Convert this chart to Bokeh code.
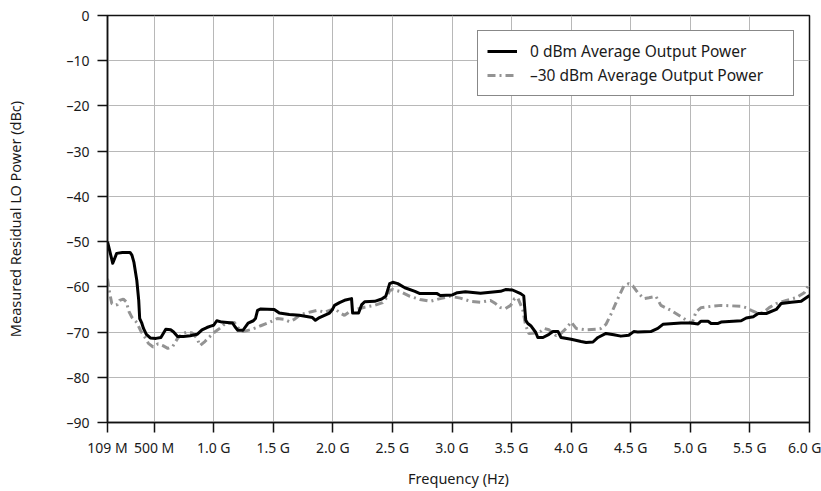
from bokeh.plotting import figure
from bokeh.models import Range1d, FixedTicker, CustomJSTickFormatter
from bokeh.embed import file_html
from bokeh.resources import INLINE

# Residual LO power vs. frequency (GHz, dBc)
freq_0dbm = [0.109, 0.153, 0.186, 0.234, 0.298, 0.314, 0.331, 0.355, 0.371, 0.379,
             0.395, 0.411, 0.435, 0.468, 0.516, 0.557, 0.582, 0.598, 0.639, 0.664,
             0.697, 0.746, 0.803, 0.861, 0.902, 0.943, 0.975, 1.000, 1.026, 1.070,
             1.158, 1.184, 1.202, 1.246, 1.289, 1.333, 1.351, 1.368, 1.395, 1.508,
             1.551, 1.635, 1.719, 1.829, 1.854, 1.888, 1.972, 1.997, 2.014, 2.056,
             2.107, 2.157, 2.166, 2.216, 2.241, 2.267, 2.351, 2.410, 2.444, 2.477,
             2.503, 2.545, 2.604, 2.689, 2.731, 2.875, 2.901, 3.003, 3.045, 3.112,
             3.239, 3.407, 3.449, 3.508, 3.576, 3.602, 3.619, 3.636, 3.661, 3.703,
             3.720, 3.763, 3.814, 3.847, 3.890, 3.915, 4.000, 4.083, 4.125, 4.183,
             4.225, 4.292, 4.358, 4.417, 4.483, 4.525, 4.559, 4.668, 4.727, 4.770,
             4.922, 5.006, 5.065, 5.090, 5.149, 5.174, 5.233, 5.258, 5.427, 5.469,
             5.528, 5.570, 5.637, 5.721, 5.762, 5.846, 5.930, 6.000]
lo_0dbm = [-50.0, -54.8, -52.6, -52.4, -52.4, -53.0, -54.6, -58.6, -63.0, -67.0,
           -67.9, -69.2, -70.5, -71.3, -71.4, -71.2, -70.1, -69.4, -69.5, -70.0,
           -71.0, -71.0, -70.8, -70.5, -69.5, -69.0, -68.7, -68.5, -67.5, -67.8,
           -68.0, -69.0, -69.6, -69.6, -68.0, -67.5, -67.0, -65.2, -64.9, -65.0,
           -65.8, -66.1, -66.3, -66.8, -67.4, -66.8, -65.8, -65.0, -64.1, -63.5,
           -62.9, -62.6, -65.8, -65.8, -64.0, -63.3, -63.2, -62.7, -62.1, -59.3,
           -59.0, -59.3, -60.2, -61.0, -61.5, -61.5, -61.9, -61.8, -61.3, -61.1,
           -61.4, -61.0, -60.6, -60.7, -61.5, -62.0, -67.4, -68.1, -68.6, -70.1,
           -71.2, -71.2, -70.5, -69.9, -69.9, -71.2, -71.6, -72.1, -72.3, -72.2,
           -71.2, -70.3, -70.6, -70.9, -70.7, -69.9, -70.0, -69.9, -69.2, -68.3,
           -68.0, -68.0, -68.2, -67.6, -67.6, -68.1, -68.1, -67.8, -67.5, -66.9,
           -66.6, -65.9, -65.9, -65.0, -63.7, -63.4, -63.2, -61.9]

freq_m30dbm = [0.109, 0.121, 0.145, 0.169, 0.194, 0.210, 0.242, 0.266, 0.290, 0.315,
               0.355, 0.387, 0.419, 0.452, 0.492, 0.533, 0.574, 0.615, 0.656, 0.697,
               0.738, 0.779, 0.820, 0.861, 0.885, 0.926, 0.959, 1.009, 1.061, 1.096,
               1.175, 1.202, 1.246, 1.307, 1.360, 1.395, 1.465, 1.534, 1.593, 1.635,
               1.677, 1.719, 1.761, 1.820, 1.871, 1.930, 1.972, 2.014, 2.056, 2.098,
               2.157, 2.207, 2.267, 2.351, 2.418, 2.452, 2.477, 2.503, 2.562, 2.647,
               2.731, 2.816, 2.901, 2.986, 3.070, 3.154, 3.239, 3.323, 3.365, 3.407,
               3.449, 3.492, 3.525, 3.551, 3.593, 3.619, 3.644, 3.703, 3.746, 3.771,
               3.814, 3.873, 3.915, 3.958, 4.000, 4.042, 4.125, 4.208, 4.250, 4.292,
               4.333, 4.392, 4.442, 4.483, 4.517, 4.559, 4.610, 4.652, 4.711, 4.753,
               4.837, 4.922, 4.997, 5.014, 5.048, 5.090, 5.174, 5.258, 5.343, 5.427,
               5.469, 5.511, 5.570, 5.612, 5.662, 5.721, 5.805, 5.889, 5.956, 6.000]
lo_m30dbm = [-58.2, -60.5, -63.7, -64.1, -63.9, -63.0, -62.7, -63.3, -65.5, -66.8,
             -67.9, -69.7, -71.0, -72.5, -73.3, -72.6, -73.0, -73.6, -73.2, -71.4,
             -70.3, -70.0, -70.2, -71.4, -73.0, -72.1, -71.2, -70.0, -69.0, -68.1,
             -67.9, -69.0, -69.9, -69.5, -69.0, -68.6, -67.9, -67.0, -67.2, -67.7,
             -67.2, -66.3, -65.9, -65.5, -65.2, -65.6, -65.2, -64.8, -65.7, -66.3,
             -65.2, -64.9, -64.5, -64.1, -63.5, -62.4, -60.8, -60.6, -61.0, -62.1,
             -62.8, -63.2, -62.6, -62.1, -62.5, -63.2, -63.4, -63.0, -63.7, -64.6,
             -64.8, -64.1, -62.6, -62.4, -65.0, -68.6, -70.3, -70.2, -69.8, -69.2,
             -69.5, -70.8, -70.3, -69.2, -67.8, -69.2, -69.5, -69.4, -69.2, -68.3,
             -66.1, -62.6, -59.8, -59.3, -59.8, -61.3, -62.6, -62.4, -62.1, -64.1,
             -65.2, -66.6, -67.9, -68.1, -65.5, -64.6, -64.3, -64.1, -64.2, -64.3,
             -64.6, -65.2, -65.9, -65.7, -64.6, -63.7, -63.0, -62.4, -61.3, -59.3]

x_tick_values = [0.109, 0.5, 1.0, 1.5, 2.0, 2.5, 3.0, 3.5, 4.0, 4.5, 5.0, 5.5, 6.0]
x_tick_labels = ["109 M", "500 M", "1.0 G", "1.5 G", "2.0 G", "2.5 G", "3.0 G",
                 "3.5 G", "4.0 G", "4.5 G", "5.0 G", "5.5 G", "6.0 G"]
y_tick_values = [0, -10, -20, -30, -40, -50, -60, -70, -80, -90]

FONT = "Noto Sans"
TEXT = "#1a1a1a"

p = figure(width=821, height=491, output_backend="svg", toolbar_location=None,
           x_range=Range1d(0.109, 6.0), y_range=Range1d(-90, 0),
           min_border_left=107, min_border_right=12, min_border_top=15,
           min_border_bottom=69)
p.background_fill_color = "white"
p.border_fill_color = "white"
p.outline_line_color = "#111111"
p.outline_line_width = 1.5

# grid
p.xgrid.ticker = FixedTicker(ticks=x_tick_values)
p.ygrid.ticker = FixedTicker(ticks=y_tick_values)
for g in (p.xgrid, p.ygrid):
    g.grid_line_color = "#b8b8b8"
    g.grid_line_width = 1

# x axis
p.xaxis.ticker = FixedTicker(ticks=x_tick_values)
p.xaxis.formatter = CustomJSTickFormatter(
    args=dict(vals=x_tick_values, labs=x_tick_labels),
    code="""
    for (let i = 0; i < vals.length; i++) {
        if (Math.abs(vals[i] - tick) < 1e-6) { return labs[i]; }
    }
    return "";
""")
p.xaxis.axis_label = "Frequency (Hz)"
p.xaxis.major_label_standoff = 5
p.xaxis.axis_label_standoff = 8

# y axis
p.yaxis.ticker = FixedTicker(ticks=y_tick_values)
p.yaxis.major_label_overrides = {v: ("0" if v == 0 else "\u2013%d" % abs(v)) for v in y_tick_values}
p.yaxis.axis_label = "Measured Residual LO Power (dBc)"
p.yaxis.major_label_standoff = 8
p.yaxis.axis_label_standoff = 38

for ax in (p.xaxis, p.yaxis):
    ax.axis_line_color = "#111111"
    ax.axis_line_width = 1.5
    ax.major_tick_line_color = "#111111"
    ax.major_tick_line_width = 1.5
    ax.major_tick_out = 10
    ax.major_tick_in = 0
    ax.minor_tick_line_color = None
    ax.major_label_text_font = FONT
    ax.major_label_text_font_size = "14px"
    ax.major_label_text_color = TEXT
    ax.axis_label_text_font = FONT
    ax.axis_label_text_font_size = "14.5px"
    ax.axis_label_text_font_style = "normal"
    ax.axis_label_text_color = TEXT

# curves
p.line(freq_m30dbm, lo_m30dbm, line_color="#939393", line_width=3,
       line_dash="8 4 2 4", legend_label="\u201330 dBm Average Output Power")
p.line(freq_0dbm, lo_0dbm, line_color="black", line_width=3, line_join="round",
       legend_label="0 dBm Average Output Power")

# legend: solid series listed first
lg = p.legend[0]
lg.items = [lg.items[1], lg.items[0]]
lg.location = "top_right"
lg.margin = 15
lg.padding = 9
lg.spacing = 2
lg.glyph_width = 30
lg.glyph_height = 20
lg.label_height = 20
lg.label_standoff = 13
lg.label_width = 254
lg.label_text_font = FONT
lg.label_text_font_size = "15.5px"
lg.label_text_color = TEXT
lg.border_line_color = "#111111"
lg.border_line_width = 1
lg.background_fill_color = "white"
lg.background_fill_alpha = 1

open("out.html", "w").write(file_html(p, INLINE))
